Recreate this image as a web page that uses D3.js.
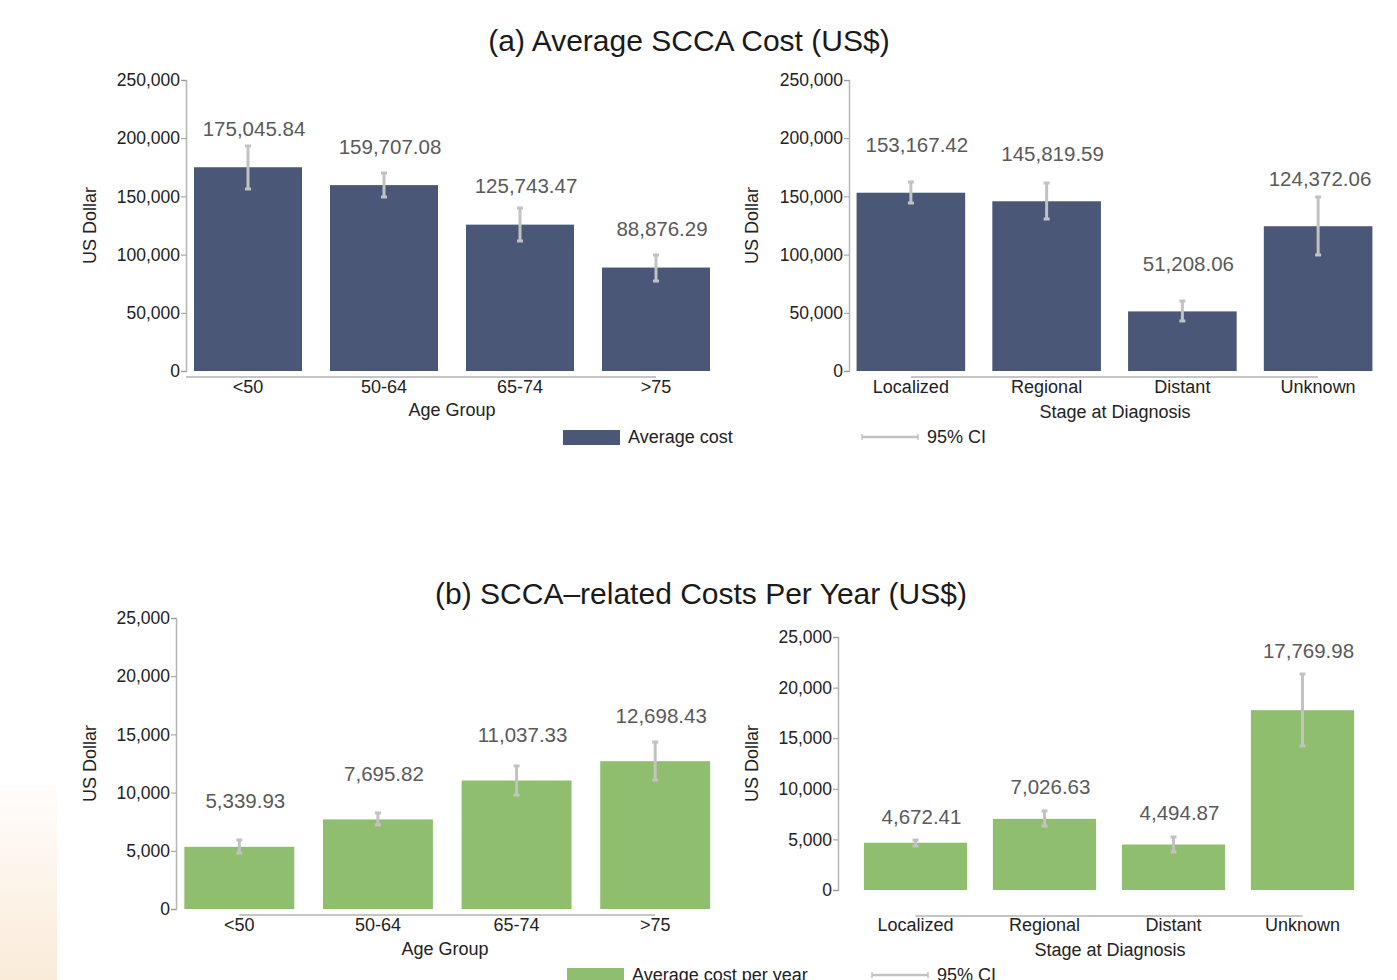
<!DOCTYPE html>
<html>
<head>
<meta charset="utf-8">
<script src="https://cdn.jsdelivr.net/npm/d3@7"></script>
<style>
  body { margin: 0; background: #fff; }
  svg { display: block; font-family: "Liberation Sans", Arial, sans-serif; }
</style>
</head>
<body>
<svg id="chart" width="1397" height="980"></svg>
<script>
// ---- data ----
const ageGroups = ["<50", "50-64", "65-74", ">75"];
const stages = ["Localized", "Regional", "Distant", "Unknown"];

const costByAge = [175045.84, 159707.08, 125743.47, 88876.29];
const costByAgeLo = [156400, 149500, 111700, 77300];
const costByAgeHi = [193300, 170100, 140000, 99700];

const costByStage = [153167.42, 145819.59, 51208.06, 124372.06];
const costByStageLo = [144300, 130600, 43000, 99700];
const costByStageHi = [162400, 161500, 60100, 149500];

const yearByAge = [5339.93, 7695.82, 11037.33, 12698.43];
const yearByAgeLo = [4810, 7220, 9790, 11080];
const yearByAgeHi = [5930, 8250, 12290, 14350];

const yearByStage = [4672.41, 7026.63, 4494.87, 17769.98];
const yearByStageLo = [4350, 6320, 3760, 14230];
const yearByStageHi = [4940, 7810, 5240, 21340];

const ticksA = [0, 50000, 100000, 150000, 200000, 250000];
const ticksB = [0, 5000, 10000, 15000, 20000, 25000];

const navy = "#4a5777";
const green = "#8fbf6e";
const ciColor = "#c2c2c2";

const svg = d3.select("#chart");

// faint beige strip at the lower left edge
const defs = svg.append("defs");
const grad = defs.append("linearGradient")
  .attr("id", "edge").attr("x1", 0).attr("y1", 0).attr("x2", 0).attr("y2", 1);
grad.append("stop").attr("offset", "0%").attr("stop-color", "#fffdfb");
grad.append("stop").attr("offset", "100%").attr("stop-color", "#faebd9");
svg.append("rect").attr("x", 0).attr("y", 785).attr("width", 57).attr("height", 195)
  .attr("fill", "url(#edge)");

// titles
svg.append("text").attr("x", 689).attr("y", 40).attr("text-anchor", "middle")
  .attr("dominant-baseline", "central").attr("font-size", 30).attr("fill", "#1a1a1a")
  .text("(a) Average SCCA Cost (US$)");
svg.append("text").attr("x", 701).attr("y", 593).attr("text-anchor", "middle")
  .attr("dominant-baseline", "central").attr("font-size", 30).attr("fill", "#1a1a1a")
  .text("(b) SCCA\u2013related Costs Per Year (US$)");

// value labels never run past the right edge of the figure
const labelMaxX = 1320;

/* one bar panel */
function drawPanel(p) {
  const g = svg.append("g");
  const x = d3.scaleBand().domain(p.cats).range(p.xRange)
    .paddingInner(p.pad).paddingOuter(p.pad / 2);
  const y = d3.scaleLinear().domain([0, p.ticks[p.ticks.length - 1]]).range(p.yRange);

  // y axis
  const yAxis = g.append("g")
    .attr("transform", `translate(${p.axisX},0)`)
    .call(d3.axisLeft(y).tickValues(p.ticks).tickSize(5).tickPadding(1)
      .tickFormat(d3.format(",")));
  yAxis.select(".domain").attr("stroke", "#b5b5b5").attr("stroke-width", 1.5);
  yAxis.selectAll(".tick line").attr("stroke", "#999");
  yAxis.selectAll(".tick text").attr("font-size", 17.5).attr("fill", "#222")
    .attr("font-family", "Liberation Sans, Arial, sans-serif");

  // bars
  g.selectAll("rect.bar").data(p.vals).join("rect")
    .attr("class", "bar")
    .attr("x", (d, i) => x(p.cats[i]))
    .attr("width", x.bandwidth())
    .attr("y", d => y(d))
    .attr("height", d => y(0) - y(d))
    .attr("fill", p.color);

  // 95% CI whiskers
  const cx = i => x(p.cats[i]) + x.bandwidth() / 2;
  p.vals.forEach((v, i) => {
    g.append("line").attr("x1", cx(i)).attr("x2", cx(i))
      .attr("y1", y(p.lo[i])).attr("y2", y(p.hi[i]))
      .attr("stroke", ciColor).attr("stroke-width", 3);
    [p.lo[i], p.hi[i]].forEach(e => {
      g.append("line").attr("x1", cx(i) - 3).attr("x2", cx(i) + 3)
        .attr("y1", y(e)).attr("y2", y(e))
        .attr("stroke", ciColor).attr("stroke-width", 3);
    });
  });

  // value labels (sit a little right of the bar centre)
  g.selectAll("text.val").data(p.vals).join("text")
    .attr("class", "val")
    .attr("x", (d, i) => Math.min(cx(i) + 6, labelMaxX))
    .attr("y", (d, i) => p.labelFromCI ? y(p.hi[i]) - p.labelOff : y(d) - p.labelOff)
    .attr("text-anchor", "middle").attr("dominant-baseline", "central")
    .attr("font-size", 20.5).attr("fill", "#5a5a5a")
    .text(d => d3.format(",.2f")(d));

  // x axis line and category labels
  const lineStart = p.lineFromAxis ? p.axisX : cx(0);
  g.append("line").attr("x1", lineStart).attr("x2", cx(p.cats.length - 1))
    .attr("y1", p.lineY).attr("y2", p.lineY)
    .attr("stroke", "#8c8c8c").attr("stroke-width", 1);
  g.selectAll("text.cat").data(p.cats).join("text")
    .attr("class", "cat")
    .attr("x", (d, i) => cx(i)).attr("y", p.catY)
    .attr("text-anchor", "middle").attr("dominant-baseline", "central")
    .attr("font-size", 18).attr("fill", "#222")
    .text(d => d);

  // axis titles
  g.append("text").attr("x", p.xTitleX).attr("y", p.xTitleY)
    .attr("text-anchor", "middle").attr("dominant-baseline", "central")
    .attr("font-size", 18).attr("fill", "#222").text(p.xTitle);
  g.append("text")
    .attr("transform", `translate(${p.yTitleX},${(p.yRange[0] + p.yRange[1]) / 2}) rotate(-90)`)
    .attr("text-anchor", "middle").attr("dominant-baseline", "central")
    .attr("font-size", 18).attr("fill", "#222").text("US Dollar");
}

drawPanel({
  cats: ageGroups, vals: costByAge, lo: costByAgeLo, hi: costByAgeHi,
  ticks: ticksA, color: navy, xRange: [180, 724], pad: 0.206, yRange: [371, 80],
  axisX: 186, lineY: 377, lineFromAxis: true, catY: 387, labelOff: 39,
  xTitle: "Age Group", xTitleX: 452, xTitleY: 410, yTitleX: 90
});
drawPanel({
  cats: stages, vals: costByStage, lo: costByStageLo, hi: costByStageHi,
  ticks: ticksA, color: navy, xRange: [843, 1386], pad: 0.2, yRange: [371, 80],
  axisX: 849, lineY: 377, lineFromAxis: false, catY: 387, labelOff: 48,
  xTitle: "Stage at Diagnosis", xTitleX: 1115, xTitleY: 412, yTitleX: 752
});
drawPanel({
  cats: ageGroups, vals: yearByAge, lo: yearByAgeLo, hi: yearByAgeHi,
  ticks: ticksB, color: green, xRange: [170, 724.5], pad: 0.207, yRange: [909, 618],
  axisX: 176, lineY: 915, lineFromAxis: false, catY: 925, labelOff: 46,
  xTitle: "Age Group", xTitleX: 445, xTitleY: 949, yTitleX: 90
});
drawPanel({
  cats: stages, vals: yearByStage, lo: yearByStageLo, hi: yearByStageHi,
  ticks: ticksB, color: green, xRange: [851, 1367], pad: 0.2, yRange: [890, 637],
  axisX: 838, lineY: 916, lineFromAxis: false, catY: 925, labelOff: 24, labelFromCI: true,
  xTitle: "Stage at Diagnosis", xTitleX: 1110, xTitleY: 950, yTitleX: 752
});

/* legends */
const legendRows = [
  { y: 437, swX: 563, label: "Average cost", ciX: 862, color: navy },
  { y: 975, swX: 567, label: "Average cost per year", ciX: 872, color: green }
];
legendRows.forEach(l => {
  svg.append("rect").attr("x", l.swX).attr("y", l.y - 7).attr("width", 57).attr("height", 15)
    .attr("fill", l.color);
  svg.append("text").attr("x", l.swX + 65).attr("y", l.y)
    .attr("dominant-baseline", "central").attr("font-size", 18).attr("fill", "#222")
    .text(l.label);
  svg.append("line").attr("x1", l.ciX).attr("x2", l.ciX + 56).attr("y1", l.y).attr("y2", l.y)
    .attr("stroke", ciColor).attr("stroke-width", 2.5);
  [l.ciX, l.ciX + 56].forEach(xx => {
    svg.append("line").attr("x1", xx).attr("x2", xx).attr("y1", l.y - 3).attr("y2", l.y + 3)
      .attr("stroke", ciColor).attr("stroke-width", 1.5);
  });
  svg.append("text").attr("x", l.ciX + 65).attr("y", l.y)
    .attr("dominant-baseline", "central").attr("font-size", 18).attr("fill", "#222")
    .text("95% CI");
});
</script>
</body>
</html>
